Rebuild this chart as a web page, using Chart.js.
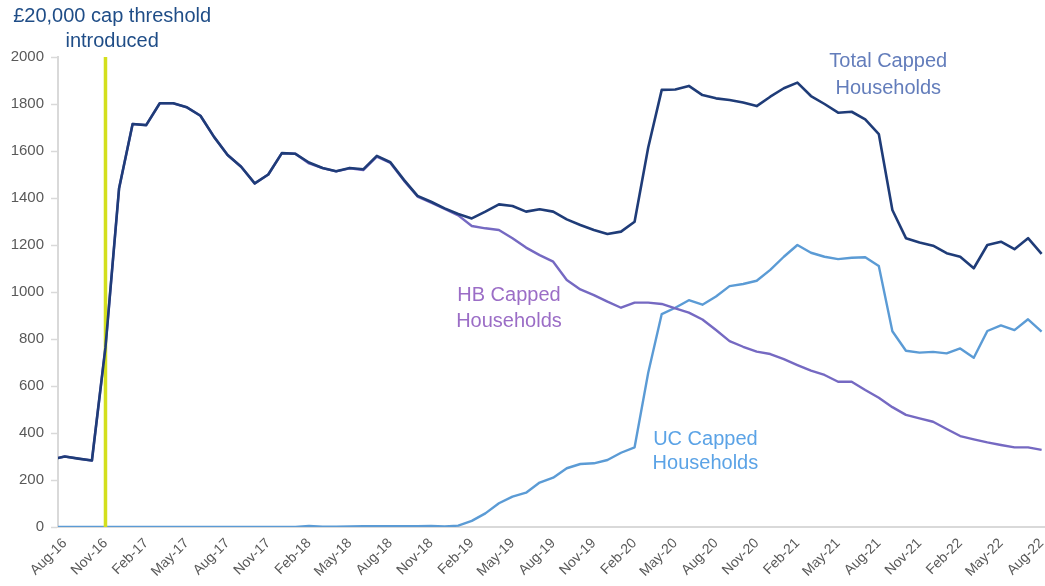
<!DOCTYPE html>
<html>
<head>
<meta charset="utf-8">
<script src="https://cdn.jsdelivr.net/npm/chart.js@4"></script>
<style>
  html, body { margin: 0; padding: 0; background: #ffffff; }
  #wrap { width: 1045px; height: 586px; position: relative; }
</style>
</head>
<body>
<div id="wrap"><canvas id="c" width="1045" height="586"></canvas></div>
<script>
// ---------------- DATA ----------------
const months = [
  'Jul-16','Aug-16','Sep-16','Oct-16','Nov-16','Dec-16',
  'Jan-17','Feb-17','Mar-17','Apr-17','May-17','Jun-17','Jul-17','Aug-17','Sep-17','Oct-17','Nov-17','Dec-17',
  'Jan-18','Feb-18','Mar-18','Apr-18','May-18','Jun-18','Jul-18','Aug-18','Sep-18','Oct-18','Nov-18','Dec-18',
  'Jan-19','Feb-19','Mar-19','Apr-19','May-19','Jun-19','Jul-19','Aug-19','Sep-19','Oct-19','Nov-19','Dec-19',
  'Jan-20','Feb-20','Mar-20','Apr-20','May-20','Jun-20','Jul-20','Aug-20','Sep-20','Oct-20','Nov-20','Dec-20',
  'Jan-21','Feb-21','Mar-21','Apr-21','May-21','Jun-21','Jul-21','Aug-21','Sep-21','Oct-21','Nov-21','Dec-21',
  'Jan-22','Feb-22','Mar-22','Apr-22','May-22','Jun-22','Jul-22','Aug-22'
];

const totalCapped = [
  287, 300, 291, 283, 765, 1440,
  1715, 1710, 1803, 1803, 1786, 1750, 1660, 1583, 1533, 1462, 1500, 1591,
  1588, 1551, 1528, 1514, 1528, 1522, 1579, 1552, 1477, 1409, 1384, 1356,
  1332, 1313, 1342, 1373, 1366, 1342, 1352, 1342, 1309, 1285, 1264, 1247,
  1257, 1299, 1614, 1860, 1862, 1877, 1838, 1824, 1817, 1806, 1791, 1831,
  1867, 1891, 1834, 1800, 1763, 1767, 1735, 1672, 1349, 1229, 1211, 1197,
  1165, 1150, 1101, 1200, 1214, 1182, 1229, 1162
];

const hbCapped = [
  287, 300, 291, 283, 765, 1440,
  1715, 1710, 1803, 1803, 1786, 1750, 1660, 1583, 1533, 1462, 1500, 1591,
  1588, 1547, 1527, 1513, 1526, 1519, 1576, 1549, 1474, 1406, 1380, 1354,
  1326, 1281, 1271, 1264, 1229, 1189, 1157, 1129, 1051, 1011, 987, 959,
  933, 955, 955, 949, 930, 912, 883, 838, 791, 767, 746, 736,
  714, 689, 665, 647, 618, 618, 583, 550, 510, 477, 462, 448,
  417, 387, 373, 360, 349, 339, 339, 328
];

const ucCapped = [
  0, 0, 0, 0, 0, 0,
  0, 0, 0, 0, 0, 0, 0, 0, 0, 0, 0, 0,
  0, 4, 1, 1, 2, 3, 3, 3, 3, 3, 4, 2,
  6, 26, 58, 101, 129, 146, 189, 210, 250, 268, 271, 285,
  316, 339, 655, 906, 933, 965, 946, 981, 1025, 1034, 1048, 1094,
  1150, 1200, 1167, 1150, 1140, 1146, 1148, 1111, 833, 750, 742, 745,
  739, 760, 720, 834, 858, 838, 884, 831
];

const yTickValues = [0, 200, 400, 600, 800, 1000, 1200, 1400, 1600, 1800, 2000];
const xTickLabels = ['Aug-16','Nov-16','Feb-17','May-17','Aug-17','Nov-17','Feb-18','May-18','Aug-18',
  'Nov-18','Feb-19','May-19','Aug-19','Nov-19','Feb-20','May-20','Aug-20','Nov-20','Feb-21','May-21',
  'Aug-21','Nov-21','Feb-22','May-22','Aug-22'];
const thresholdMonth = 'Nov-16';

const seriesNames = ['Total Capped Households', 'HB Capped Households', 'UC Capped Households'];

// ---------------- CHART ----------------
const xTickIdx = xTickLabels.map(l => months.indexOf(l));
const thrIdx = months.indexOf(thresholdMonth);
const toXY = arr => arr.map((v, i) => ({ x: i, y: v }));

const COLORS = {
  total: '#1f3c78',
  hb: '#7569c2',
  uc: '#5b9bd5',
  thr: '#d3df1d',
  axis: '#d9d9d9',
  tick: '#595959'
};

const annotations = [
  { lines: ['£20,000 cap threshold', 'introduced'], x: 4.49, y: 2174, color: '#1f4d87', lh: 25 },
  { lines: ['Total Capped', 'Households'], x: 61.7, y: 1979, color: '#637dbb', lh: 26.5 },
  { lines: ['HB Capped', 'Households'], x: 33.74, y: 987, color: '#9b6dc6', lh: 26 },
  { lines: ['UC Capped', 'Households'], x: 48.22, y: 373, color: '#5ba3e6', lh: 24.5 }
];

const annotationPlugin = {
  id: 'annot',
  afterDraw(chart) {
    const ctx = chart.ctx;
    const xs = chart.scales.x, ys = chart.scales.y;
    ctx.save();
    ctx.font = '20px "Liberation Sans", Arial, sans-serif';
    ctx.textAlign = 'center';
    ctx.textBaseline = 'middle';
    annotations.forEach(a => {
      const px = xs.getPixelForValue(a.x);
      const py = ys.getPixelForValue(a.y);
      ctx.fillStyle = a.color;
      a.lines.forEach((t, k) => ctx.fillText(t, px, py + k * a.lh));
    });
    ctx.restore();
  }
};

new Chart(document.getElementById('c'), {
  type: 'line',
  data: {
    datasets: [
      { label: seriesNames[0], data: toXY(totalCapped), borderColor: COLORS.total, borderWidth: 2.6 },
      { label: 'threshold', data: [{ x: thrIdx, y: yTickValues[0] }, { x: thrIdx, y: yTickValues[yTickValues.length - 1] }],
        borderColor: COLORS.thr, borderWidth: 3.5 },
      { label: seriesNames[1], data: toXY(hbCapped), borderColor: COLORS.hb, borderWidth: 2.4 },
      { label: seriesNames[2], data: toXY(ucCapped), borderColor: COLORS.uc, borderWidth: 2.4 }
    ]
  },
  options: {
    responsive: false,
    animation: false,
    devicePixelRatio: 1,
    layout: { padding: { top: 57, right: 0, left: 0, bottom: 0 } },
    elements: {
      point: { radius: 0, hoverRadius: 0 },
      line: { tension: 0, fill: false, borderJoinStyle: 'round', borderCapStyle: 'butt' }
    },
    datasets: { line: { clip: 0 } },
    plugins: { legend: { display: false }, tooltip: { enabled: false }, title: { display: false } },
    scales: {
      x: {
        type: 'linear',
        min: 0.5,
        max: 73.25,
        afterBuildTicks: ax => { ax.ticks = xTickIdx.map(v => ({ value: v })); },
        afterFit: ax => { ax.height = 59; ax.paddingLeft = 0; ax.paddingRight = 0; },
        ticks: {
          autoSkip: false,
          minRotation: 45,
          maxRotation: 45,
          padding: 8,
          color: COLORS.tick,
          font: { family: '"Liberation Sans", Arial, sans-serif', size: 14 },
          callback: v => months[v]
        },
        grid: { display: true, drawOnChartArea: false, drawTicks: false, color: COLORS.axis },
        border: { display: true, color: COLORS.axis, width: 2 }
      },
      y: {
        min: 0,
        max: 2000,
        afterBuildTicks: ax => { ax.ticks = yTickValues.map(v => ({ value: v })); },
        afterFit: ax => { ax.width = 58; },
        ticks: {
          padding: 7,
          color: COLORS.tick,
          font: { family: '"Liberation Sans", Arial, sans-serif', size: 15 },
          callback: v => String(v)
        },
        grid: { display: true, drawOnChartArea: false, drawTicks: true, tickLength: 7, color: COLORS.axis, tickWidth: 1.5 },
        border: { display: true, color: COLORS.axis, width: 2 }
      }
    }
  },
  plugins: [annotationPlugin]
});
</script>
</body>
</html>
